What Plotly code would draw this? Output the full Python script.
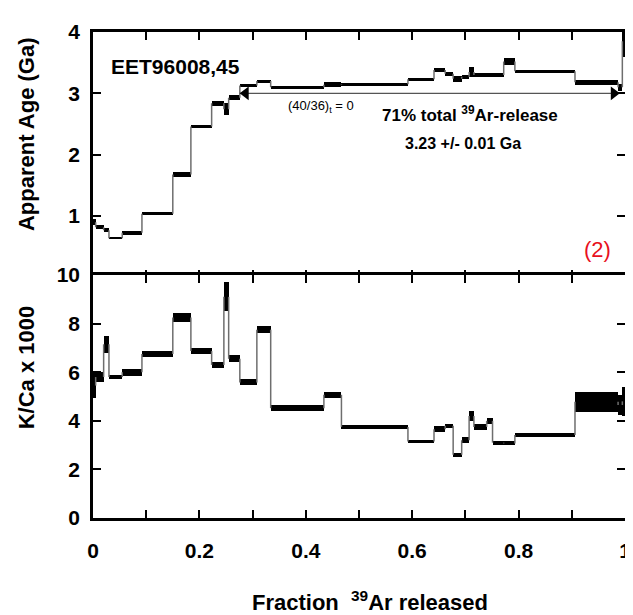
import plotly.graph_objects as go

# ---------------- data ----------------
step_bounds = [0, 0.005, 0.02, 0.03, 0.055, 0.092, 0.15, 0.184, 0.223, 0.246,
               0.255, 0.276, 0.308, 0.334, 0.434, 0.467, 0.592, 0.641, 0.662,
               0.677, 0.693, 0.707, 0.716, 0.74, 0.751, 0.772, 0.793, 0.906,
               0.987, 0.995, 1.0]

age_ga = [0.90, 0.82, 0.77, 0.64, 0.73, 1.04, 1.68, 2.46, 2.84, 2.74,
          2.93, 3.13, 3.20, 3.10, 3.14, 3.15, 3.23, 3.38, 3.32, 3.24,
          3.27, 3.35, 3.30, 3.30, 3.30, 3.52, 3.36, 3.18, 3.10, 3.85]
age_err = [0.05, 0.03, 0.03, 0.02, 0.03, 0.025, 0.035, 0.03, 0.04, 0.10,
           0.04, 0.03, 0.015, 0.015, 0.04, 0.015, 0.015, 0.03, 0.03, 0.05,
           0.03, 0.08, 0.03, 0.03, 0.03, 0.06, 0.015, 0.04, 0.06, 0.25]

kca = [5.45, 5.8, 7.15, 5.8, 6.0, 6.75, 8.25, 6.87, 6.3, 9.1,
       6.55, 5.58, 7.75, 4.52, 5.07, 3.75, 3.15, 3.65, 3.8, 2.6,
       3.2, 4.2, 3.75, 4.0, 3.1, 3.07, 3.42, 4.78, 4.65, 4.8]
kca_err = [0.5, 0.22, 0.35, 0.1, 0.15, 0.12, 0.18, 0.12, 0.12, 0.6,
           0.15, 0.12, 0.15, 0.12, 0.12, 0.07, 0.06, 0.12, 0.08, 0.08,
           0.12, 0.22, 0.12, 0.12, 0.08, 0.08, 0.08, 0.4, 0.4, 0.6]

x_all_ticks = [0, 0.1, 0.2, 0.3, 0.4, 0.5, 0.6, 0.7, 0.8, 0.9, 1.0]
x_label_ticks = [0, 0.2, 0.4, 0.6, 0.8, 1.0]
x_label_text = ["0", "0.2", "0.4", "0.6", "0.8", "1"]
x_minor_ticks = [0.1, 0.3, 0.5, 0.7, 0.9]
age_ticks = [1, 2, 3, 4]
kca_ticks = [0, 2, 4, 6, 8, 10]

plateau_start, plateau_end, plateau_level = 0.276, 0.99, 3.0

FONT = "Liberation Sans, Arial, sans-serif"

fig = go.Figure()


def add_spectrum(values, errs, xa, ya):
    lefts = step_bounds[:-1]
    rights = step_bounds[1:]
    vx, vy = [], []
    for i in range(1, len(values)):
        vx += [step_bounds[i], step_bounds[i], None]
        vy += [values[i - 1], values[i], None]
    fig.add_trace(go.Scatter(x=vx, y=vy, mode="lines", xaxis=xa, yaxis=ya,
                             line=dict(color="#6e6e6e", width=1.5),
                             hoverinfo="skip", showlegend=False))
    fig.add_trace(go.Bar(
        x=[(l + r) / 2 for l, r in zip(lefts, rights)],
        width=[r - l for l, r in zip(lefts, rights)],
        base=[v - e for v, e in zip(values, errs)],
        y=[2 * e for e in errs],
        xaxis=xa, yaxis=ya,
        marker=dict(color="black", line=dict(width=0)),
        showlegend=False, hoverinfo="skip"))


add_spectrum(age_ga, age_err, "x", "y")
add_spectrum(kca, kca_err, "x2", "y2")

# plateau arrow: thin grey line with filled black heads
head_off = 0.011
fig.add_trace(go.Scatter(x=[plateau_start, plateau_end], y=[plateau_level, plateau_level],
                         mode="lines", line=dict(color="#555555", width=1.4),
                         xaxis="x", yaxis="y", hoverinfo="skip", showlegend=False))
fig.add_trace(go.Scatter(x=[plateau_start + head_off, plateau_end - head_off],
                         y=[plateau_level, plateau_level], mode="markers",
                         marker=dict(symbol=["triangle-left", "triangle-right"],
                                     size=12, color="black", line=dict(width=0)),
                         xaxis="x", yaxis="y", hoverinfo="skip", showlegend=False))

axis_common = dict(showline=True, linecolor="black", linewidth=2.5,
                   ticks="inside", ticklen=8, tickwidth=2, tickcolor="black",
                   mirror="ticks", showgrid=False, zeroline=False, automargin=False)
tick_font = dict(family=FONT, size=21, color="black", weight="bold")

# page body has an 8px margin, so the figure is placed 8px in from the window corner
fig.update_layout(
    width=625, height=607,
    margin=dict(l=85, r=8, t=24, b=97, autoexpand=False),
    paper_bgcolor="white", plot_bgcolor="white",
    bargap=0,
    xaxis=dict(domain=[0, 1], anchor="y", range=[0, 1], tickvals=x_all_ticks,
               showticklabels=False, **axis_common),
    yaxis=dict(domain=[0.4949, 1], anchor="x", range=[0, 4], tickvals=age_ticks,
               tickfont=tick_font, ticklabelstandoff=6, **axis_common),
    xaxis2=dict(domain=[0, 1], anchor="y2", range=[0, 1], tickvals=x_label_ticks,
                ticktext=x_label_text, tickfont=tick_font, ticklabelstandoff=12,
                minor=dict(tickvals=x_minor_ticks, ticks="inside", ticklen=8,
                           tickwidth=2, tickcolor="black"),
                **axis_common),
    yaxis2=dict(domain=[0, 0.5], anchor="x2", range=[0, 10], tickvals=kca_ticks,
                tickfont=tick_font, ticklabelstandoff=6, **axis_common),
)

fig.add_annotation(x=0.030, y=3.43, xref="x", yref="y", xanchor="left", yanchor="middle",
                   text="EET96008,45", showarrow=False,
                   font=dict(family=FONT, size=21, color="black", weight="bold"))
fig.add_annotation(x=0.429, y=2.79, xref="x", yref="y", xanchor="center", yanchor="middle",
                   text="(40/36)<sub>t</sub> = 0", showarrow=False,
                   font=dict(family=FONT, size=13, color="black"))
fig.add_annotation(x=0.708, y=2.66, xref="x", yref="y", xanchor="center", yanchor="middle",
                   text="71% total <sup>39</sup>Ar-release", showarrow=False,
                   font=dict(family=FONT, size=17, color="black", weight="bold"))
fig.add_annotation(x=0.696, y=2.19, xref="x", yref="y", xanchor="center", yanchor="middle",
                   text="3.23 +/- 0.01 Ga", showarrow=False,
                   font=dict(family=FONT, size=16, color="black", weight="bold"))
fig.add_annotation(x=0.948, y=0.45, xref="x", yref="y", xanchor="center", yanchor="middle",
                   text="(2)", showarrow=False,
                   font=dict(family=FONT, size=22, color="#e8101c"))

# axis titles
fig.add_annotation(x=-0.126, y=0.79, xref="paper", yref="paper", textangle=-90,
                   xanchor="center", yanchor="middle",
                   text="Apparent Age (Ga)", showarrow=False,
                   font=dict(family=FONT, size=22, color="black", weight="bold"))
fig.add_annotation(x=-0.126, y=0.31, xref="paper", yref="paper", textangle=-90,
                   xanchor="center", yanchor="middle",
                   text="K/Ca x 1000", showarrow=False,
                   font=dict(family=FONT, size=22, color="black", weight="bold"))
fig.add_annotation(x=0.521, y=-0.171, xref="paper", yref="paper",
                   xanchor="center", yanchor="middle",
                   text="Fraction  <sup>39</sup>Ar released", showarrow=False,
                   font=dict(family=FONT, size=22, color="black", weight="bold"))

fig.write_html("out.html")
